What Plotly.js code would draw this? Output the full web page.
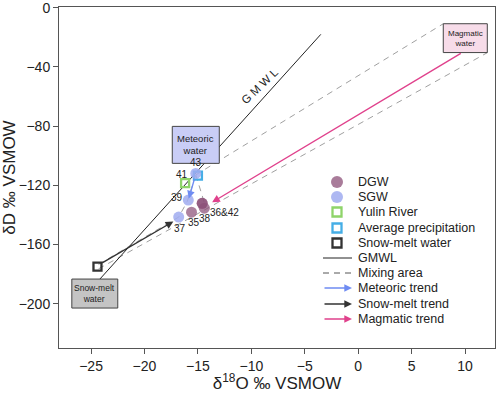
<!DOCTYPE html>
<html>
<head>
<meta charset="utf-8">
<script src="https://cdn.plot.ly/plotly-3.0.1.min.js"></script>
<style>html,body{margin:0;padding:0;background:#fff;}#chart{width:498px;height:393px;}</style>
</head>
<body>
<div id="chart"></div>
<script>
// ---- data ----
const sgwX = [-15.2, -15.9, -16.8];
const sgwY = [-112, -130, -141.5];
const sgwLabels = ['43', '39', '37'];

const dgwX = [-15.6, -14.4, -14.6, -14.6];
const dgwY = [-138.2, -135.5, -132.2, -132.2];
const dgwLabels = ['35', '38', '36&42', ''];

const yulinX = [-16.2];
const yulinY = [-118.5];
const yulinLabels = ['41'];

const precipX = [-15.0];
const precipY = [-113.5];

const snowX = [-24.4];
const snowY = [-175];

const gmwlX = [-24.2, -3.5];
const gmwlY = [-183.6, -18];

// mixing area boundaries (dashed)
const mixLowX = [-24.3, 12.1];
const mixLowY = [-176.5, -30.3];
const mixUpX = [-15.2, 7.96];
const mixUpY = [-113, -10.8];
const mixLeftX = [-24.3, -16.8, -16.0, -15.2];
const mixLeftY = [-173.5, -141.5, -131, -113];
const mixRightX = [-15.2, -14.3];
const mixRightY = [-113, -134];

// trends (arrows): [fromX, fromY, toX, toY]
const meteoricTrend = [-15.3, -115, -15.85, -129];
const snowTrend = [-24.1, -173, -17.3, -144.5];
const magmaticTrend = [9.74, -30.3, -13.67, -131.5];

// end-member boxes: [x0, x1, y0, y1]
const meteoricBox = [-17.4, -13.0, -80.2, -105.2];
const snowBox = [-26.8, -22.5, -183.4, -203];
const magmaticBox = [7.96, 12.08, -10.8, -30.3];

const xTicks = [-25, -20, -15, -10, -5, 0, 5, 10];
const yTicks = [0, -40, -80, -120, -160, -200];

const legendNames = ['DGW', 'SGW', 'Yulin River', 'Average precipitation', 'Snow-melt water',
  'GMWL', 'Mixing area', 'Meteoric trend', 'Snow-melt trend', 'Magmatic trend'];

// ---- styles ----
const FONT = 'Arial, "Liberation Sans", sans-serif';
const cDGW = 'rgba(140,80,120,0.72)';
const cSGW = 'rgba(160,172,240,0.85)';
const cYulin = '#8fd46a';
const cPrecip = '#45aee6';
const cSnow = '#333333';
const cMeteor = '#6f8cf2';
const cMagma = '#e0418c';
const cDash = '#a0a0a0';

const traces = [];
function line(x, y, color, dash, width) {
  traces.push({x: x, y: y, mode: 'lines', type: 'scatter', showlegend: false, hoverinfo: 'skip',
    line: {color: color, dash: dash, width: width}});
}
line(mixLowX, mixLowY, cDash, '6px,5px', 1);
line(mixUpX, mixUpY, cDash, '6px,5px', 1);
line(mixLeftX, mixLeftY, cDash, '6px,5px', 1);
line(mixRightX, mixRightY, cDash, '6px,5px', 1);
line(gmwlX, gmwlY, '#222', 'solid', 1);

function sq(color, size) {
  return {symbol: 'square-open', size: size, color: color, line: {color: color, width: 2.3}};
}
traces.push({x: precipX, y: precipY, mode: 'markers', type: 'scatter', showlegend: false, marker: sq(cPrecip, 8)});
traces.push({x: yulinX, y: yulinY, mode: 'markers', type: 'scatter', showlegend: false, marker: sq(cYulin, 8)});
traces.push({x: snowX, y: snowY, mode: 'markers', type: 'scatter', showlegend: false, marker: sq(cSnow, 8)});
traces.push({x: dgwX, y: dgwY, mode: 'markers', type: 'scatter', showlegend: false,
  marker: {symbol: 'circle', size: 11, color: cDGW, line: {width: 0}}});
traces.push({x: sgwX, y: sgwY, mode: 'markers', type: 'scatter', showlegend: false,
  marker: {symbol: 'circle', size: 11, color: cSGW, line: {width: 0}}});

// legend markers on an overlay axis (0..1)
const legRowsPx = [182, 197, 212, 228, 243, 258, 273, 288, 304, 319];
const legY = legRowsPx.map(p => 1 - (p - 7) / 341);
const legMarkX = (337 - 59) / 436;
const legTextX = (356 - 59) / 436;
const legLine0 = (323 - 59) / 436, legLine1 = (352 - 59) / 436;
const legMarks = [
  {symbol: 'circle', size: 12, color: 'rgba(140,80,120,0.75)', line: {width: 0}},
  {symbol: 'circle', size: 12, color: cSGW, line: {width: 0}},
  sq(cYulin, 9), sq(cPrecip, 9), sq(cSnow, 9)
];
legMarks.forEach((m, i) => {
  traces.push({x: [legMarkX], y: [legY[i]], xaxis: 'x2', yaxis: 'y2', mode: 'markers',
    type: 'scatter', showlegend: false, hoverinfo: 'skip', marker: m});
});
traces.push({x: [legLine0, legLine1], y: [legY[5], legY[5]], xaxis: 'x2', yaxis: 'y2', mode: 'lines',
  showlegend: false, hoverinfo: 'skip', line: {color: '#222', width: 1}});
traces.push({x: [legLine0, legLine1], y: [legY[6], legY[6]], xaxis: 'x2', yaxis: 'y2', mode: 'lines',
  showlegend: false, hoverinfo: 'skip', line: {color: '#555', width: 1, dash: '6px,5px'}});

const annotations = [];
// point labels
const labelShift = {
  '43': [0, 11], '39': [-11, 3], '37': [1, -11], '35': [2, -10], '38': [1, -10], '36&42': [22, -9], '41': [-3, 9]
};
function addLabels(xs, ys, labels) {
  labels.forEach((t, i) => {
    if (!t) return;
    const s = labelShift[t] || [0, 10];
    annotations.push({x: xs[i], y: ys[i], text: t, showarrow: false, xshift: s[0], yshift: s[1],
      font: {family: FONT, size: 10, color: '#222'}});
  });
}
addLabels(sgwX, sgwY, sgwLabels);
addLabels(dgwX, dgwY, dgwLabels);
addLabels(yulinX, yulinY, yulinLabels);

function arrow(t, color) {
  annotations.push({x: t[2], y: t[3], ax: t[0], ay: t[1], axref: 'x', ayref: 'y', xref: 'x', yref: 'y',
    text: '', showarrow: true, arrowhead: 2, arrowsize: 1.1, arrowwidth: 1.4, arrowcolor: color, standoff: 0});
}
arrow(meteoricTrend, cMeteor);
arrow(snowTrend, cSnow);
arrow(magmaticTrend, cMagma);

// box texts
function boxText(b, txt, size) {
  annotations.push({x: (b[0] + b[1]) / 2, y: (b[2] + b[3]) / 2, text: txt, showarrow: false,
    font: {family: FONT, size: size, color: '#222'}});
}
boxText(meteoricBox, 'Meteoric<br>water', 9.5);
boxText(snowBox, 'Snow-melt<br>water', 8.5);
boxText(magmaticBox, 'Magmatic<br>water', 8);

// GMWL label
annotations.push({x: -9.2, y: -53, text: 'G M W L', showarrow: false, textangle: -44,
  font: {family: FONT, size: 11.5, color: '#222'}});

// legend texts
legendNames.forEach((n, i) => {
  annotations.push({x: legTextX, y: legY[i], xref: 'x2', yref: 'y2', text: n, showarrow: false,
    xanchor: 'left', font: {family: FONT, size: 12.5, color: '#222'}});
});
// legend arrows
const legArrowColors = [cMeteor, cSnow, cMagma];
[7, 8, 9].forEach((r, k) => {
  annotations.push({x: legLine1, y: legY[r], xref: 'x2', yref: 'y2', ax: -29, ay: 0,
    text: '', showarrow: true, arrowhead: 2, arrowsize: 1.1, arrowwidth: 1.4,
    arrowcolor: legArrowColors[k], standoff: 0});
});

function rect(b, fill) {
  return {type: 'rect', xref: 'x', yref: 'y', x0: b[0], x1: b[1], y0: b[2], y1: b[3],
    fillcolor: fill, line: {color: '#444', width: 1}, layer: 'above'};
}

const layout = {
  width: 498, height: 393,
  margin: {l: 59, r: 3, t: 7, b: 45},
  paper_bgcolor: '#fff', plot_bgcolor: '#fff',
  showlegend: false,
  font: {family: FONT, color: '#222'},
  xaxis: {
    range: [-28, 12.8], tickvals: xTicks, ticks: 'outside', ticklen: 5, tickcolor: '#555',
    showgrid: false, zeroline: false, showline: true, linecolor: '#555', mirror: true,
    tickfont: {family: FONT, size: 14, color: '#222'},
    title: {text: 'δ<sup>18</sup>O ‰ VSMOW', font: {family: FONT, size: 17, color: '#222'}, standoff: 4}
  },
  yaxis: {
    range: [-230, 0.5], tickvals: yTicks, ticks: 'outside', ticklen: 5, tickcolor: '#555',
    ticklabeloverflow: 'allow',
    showgrid: false, zeroline: false, showline: true, linecolor: '#555', mirror: true,
    tickfont: {family: FONT, size: 14, color: '#222'},
    title: {text: 'δD ‰ VSMOW', font: {family: FONT, size: 17, color: '#222'}, standoff: 5}
  },
  xaxis2: {overlaying: 'x', range: [0, 1], visible: false, fixedrange: true},
  yaxis2: {overlaying: 'y', range: [0, 1], visible: false, fixedrange: true},
  shapes: [rect(meteoricBox, '#c9cdf6'), rect(snowBox, '#c4c4c4'), rect(magmaticBox, '#f7dce9')],
  annotations: annotations
};

Plotly.newPlot('chart', traces, layout, {displayModeBar: false, staticPlot: true});
</script>
</body>
</html>
